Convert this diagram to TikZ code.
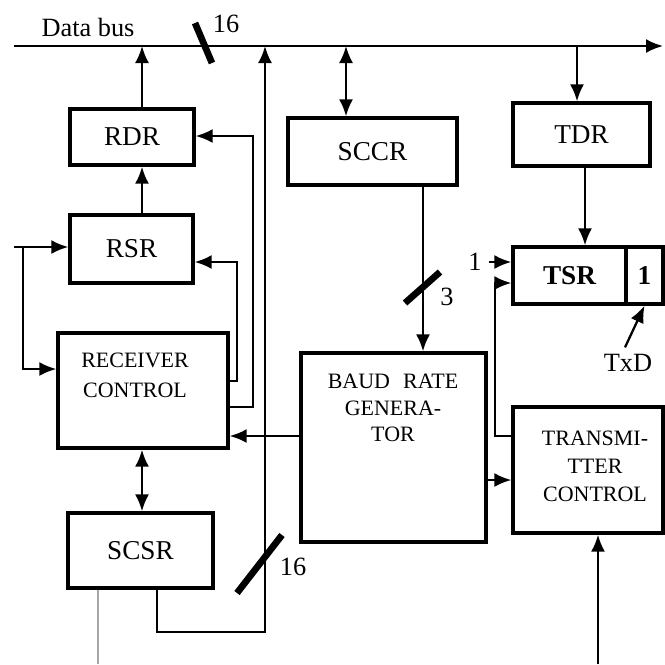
\documentclass[tikz,border=0pt]{standalone}
\usepackage{fontspec}
\setmainfont{Liberation Serif}
\usetikzlibrary{arrows.meta}

\begin{document}
\begin{tikzpicture}[x=0.02cm,y=-0.02cm,>={Latex[length=3.4mm,width=2.8mm]},
  line width=1.3pt,
  blk/.style={draw,line width=1.9pt,inner sep=0pt,font=\fontsize{15.5}{18}\selectfont},
  ctl/.style={align=center,inner sep=0pt},
  lbl/.style={font=\fontsize{15}{18}\selectfont},
  busmark/.style={line width=3.8pt}]

\useasboundingbox (0,0) rectangle (665,664);

% ---------- data bus ----------
\coordinate (busL) at (14,46);
\coordinate (busR) at (663,46);
\draw[->] (busL) -- (busR);
\node[lbl] (buslbl) at (88,27) {Data bus};
\draw[busmark] (195,23) -- (212,63);
\node[lbl] (bw1) at (226,24) {16};

% ---------- receiver side ----------
\node[blk,minimum width=2.48cm,minimum height=1.12cm] (rdr) at (132,137) {RDR};
\node[blk,minimum width=2.46cm,minimum height=1.36cm] (rsr) at (131.5,249) {RSR};
\node[blk,minimum width=3.4cm,minimum height=2.3cm] (rc) at (143,390.5) {};
\node[ctl,anchor=north,font=\fontsize{12.5}{17}\selectfont] (rctxt) at (135,352) {RECEIVER\\CONTROL};
\node[blk,minimum width=2.9cm,minimum height=1.5cm] (scsr) at (140.5,550.5) {SCSR};

\coordinate (rx) at (142,0);
\draw[->] (rdr.north -| rx) -- (busL -| rx);
\draw[->] (rsr.north -| rx) -- (rdr.south -| rx);
\draw[<->] (rc.south -| rx) -- (scsr.north -| rx);

% serial input
\coordinate (rxin) at (14,247);
\coordinate (rxtap) at (23,247);
\coordinate (rcinY) at (0,369);
\draw[->] (rxin) -- (rsr.west |- rxin);
\draw[->] (rxtap) |- (rc.west |- rcinY);

% control lines back to RSR and RDR
\coordinate (k1) at (237,381);
\coordinate (rsrin) at (237,262);
\draw[->] (rc.east |- k1) -- (k1) -- (rsrin) -- (rsr.east |- rsrin);
\coordinate (k2) at (253,407);
\coordinate (rdrin) at (253,136);
\draw[->] (rc.east |- k2) -- (k2) -- (rdrin) -- (rdr.east |- rdrin);

% SCSR to bus
\coordinate (sx) at (157,632);
\coordinate (bx) at (265,632);
\draw[->] (scsr.south -| sx) -- (sx) -- (bx) -- (bx |- busL);
\draw[busmark] (237,593) -- (282,535);
\node[lbl] (bw2) at (293,567) {16};
\coordinate (gx) at (98,664);
\draw[gray!70,line width=0.8pt] (scsr.south -| gx) -- (gx);

% ---------- baud rate / control ----------
\node[blk,minimum width=3.38cm,minimum height=1.34cm] (sccr) at (372.5,151.5) {SCCR};
\node[blk,minimum width=3.7cm,minimum height=3.78cm] (brg) at (393.5,447.5) {};
\node[ctl,anchor=north,font=\fontsize{12.5}{15}\selectfont] (brgtxt) at (393,373) {BAUD\hspace{0.6em}RATE\\GENERA-\\TOR};

\coordinate (cx) at (346,0);
\draw[<->] (busL -| cx) -- (sccr.north -| cx);
\coordinate (gx3) at (423,0);
\draw[->] (sccr.south -| gx3) -- (brg.north -| gx3);
\draw[busmark] (405,303) -- (440,272);
\node[lbl] (bw3) at (447,297) {3};

\coordinate (bY) at (0,436);
\draw[->] (brg.west |- bY) -- (rc.east |- bY);

% ---------- transmitter side ----------
\node[blk,minimum width=2.74cm,minimum height=1.26cm] (tdr) at (581.5,134.5) {TDR};
\node[blk,minimum width=2.26cm,minimum height=1.14cm,font=\fontsize{15.5}{18}\bfseries] (tsr) at (569.5,275.5) {TSR};
\node[blk,minimum width=0.74cm,minimum height=1.14cm,font=\fontsize{15.5}{18}\bfseries] (tsrbit) at (644.5,275.5) {1};
\node[blk,minimum width=3.0cm,minimum height=2.52cm] (tc) at (588,470) {};
\node[ctl,anchor=north,font=\fontsize{12.5}{16}\selectfont] (tctxt) at (595,430) {TRANSMI-\\TTER\\CONTROL};

\coordinate (tx) at (577,0);
\draw[->] (busL -| tx) -- (tdr.north -| tx);
\coordinate (tx2) at (585,0);
\draw[->] (tdr.south -| tx2) -- (tsr.north -| tx2);

\node[lbl] (one) at (475,262) {1};
\draw[->] (one.east) -- (tsr.west |- one.east);

\coordinate (t1) at (495,436);
\coordinate (t2) at (495,283);
\draw[->] (tc.west |- t1) -- (t1) -- (t2) -- (tsr.west |- t2);

\coordinate (bY2) at (0,480);
\draw[->] (brg.east |- bY2) -- (tc.west |- bY2);

\coordinate (tcb) at (598,664);
\draw[->] (tcb) -- (tc.south -| tcb);

\node[lbl] (txd) at (628,363) {TxD};
\draw[->] ([xshift=-0.06cm]txd.north) -- (tsrbit.south);

\end{tikzpicture}
\end{document}
